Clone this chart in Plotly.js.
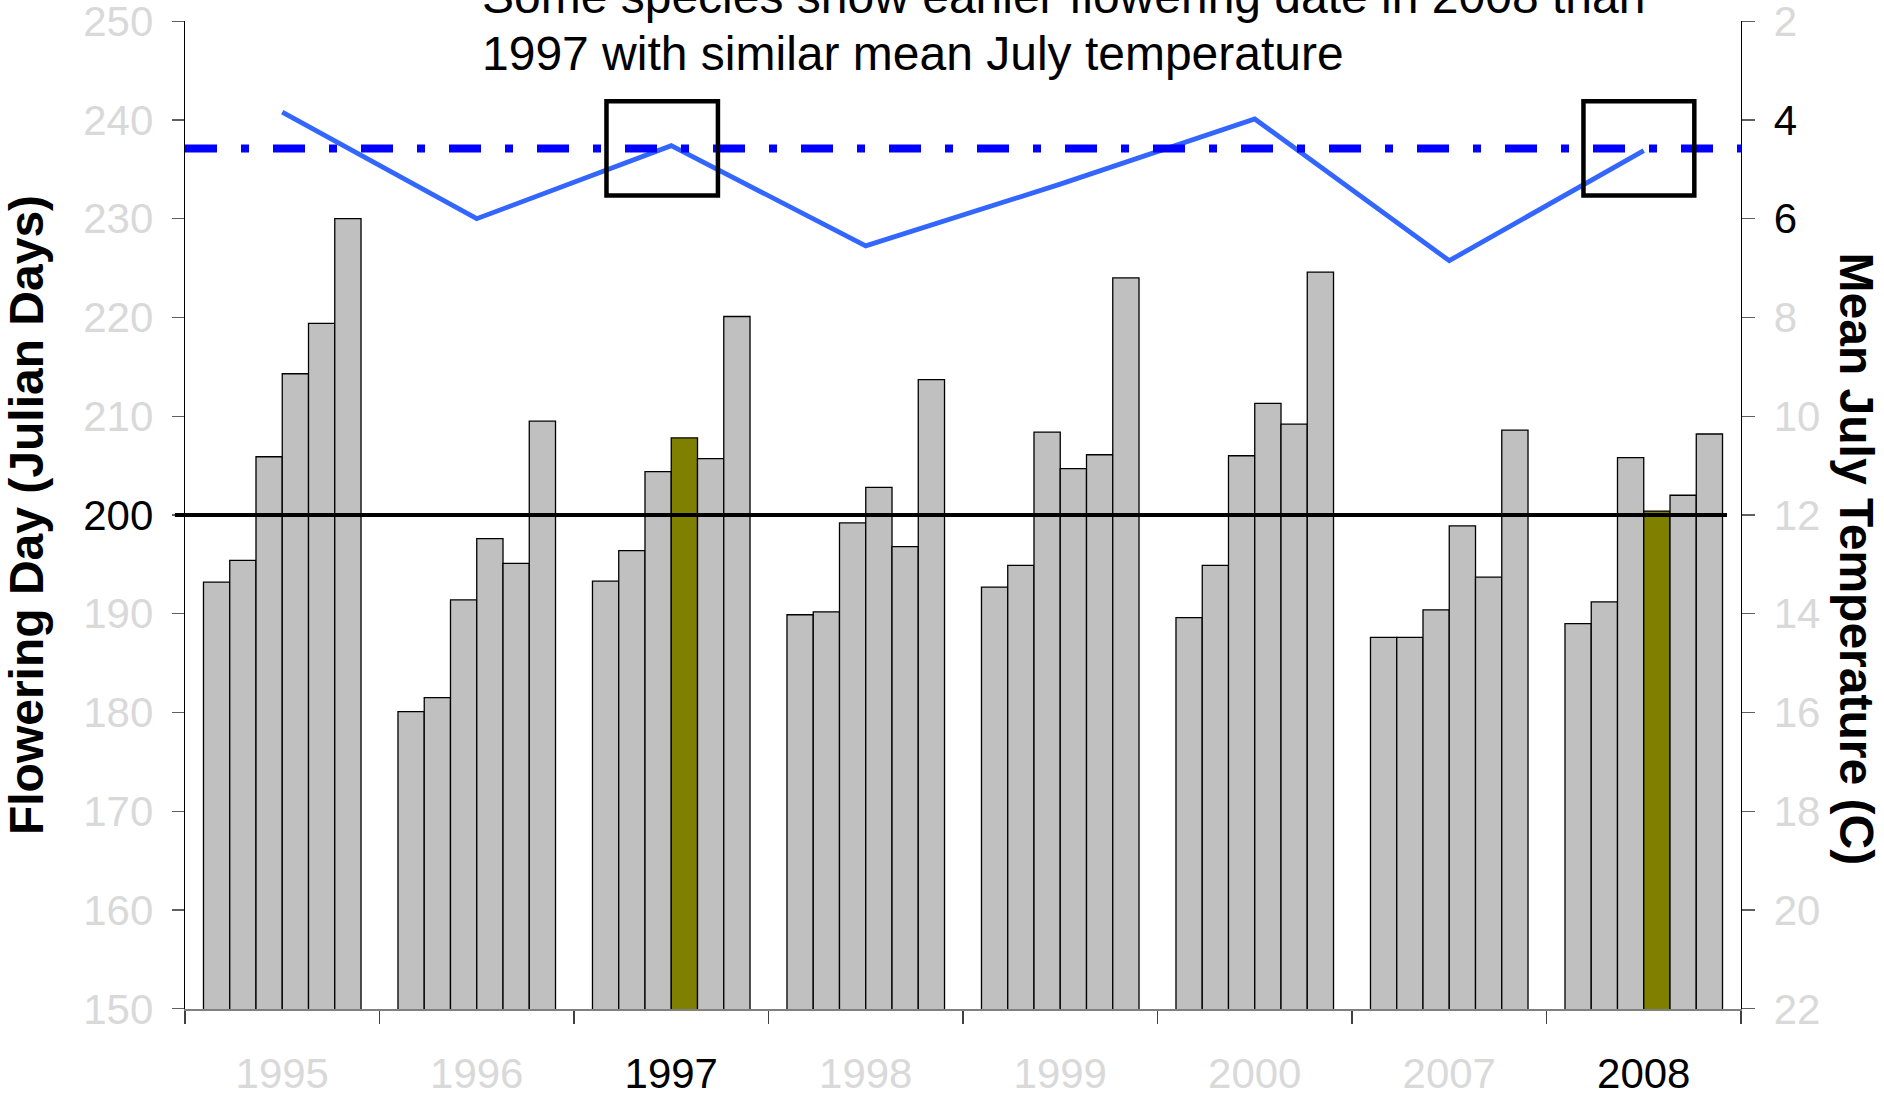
<!DOCTYPE html>
<html>
<head>
<meta charset="utf-8">
<script src="https://cdn.plot.ly/plotly-3.0.1.min.js"></script>
<style>
  html, body { margin: 0; padding: 0; background: #fff; }
  #chart { width: 1884px; height: 1097px; }
</style>
</head>
<body>
<div id="chart"></div>
<script>
// ---------- data ----------
const years = ['1995', '1996', '1997', '1998', '1999', '2000', '2007', '2008'];
const species1 = [193.2, 180.1, 193.3, 189.9, 192.7, 189.6, 187.6, 189.0];
const species2 = [195.4, 181.5, 196.4, 190.2, 194.9, 194.9, 187.6, 191.2];
const species3 = [205.9, 191.4, 204.4, 199.2, 208.4, 206.0, 190.4, 205.8];
const species4 = [214.3, 197.6, 207.8, 202.8, 204.7, 211.3, 198.9, 200.4];
const species5 = [219.4, 195.1, 205.7, 196.8, 206.1, 209.2, 193.7, 202.0];
const species6 = [230.0, 209.5, 220.1, 213.7, 224.0, 224.6, 208.6, 208.2];
const julyTemp = [3.84, 6.0, 4.52, 6.55, 5.3, 3.98, 6.85, 4.62];
const refTemp = 4.58;          // dash-dot reference temperature
const refDay = 200;            // black reference flowering day
const highlightYears = ['1997', '2008'];
const highlightSpecies = 3;    // index of species highlighted
const leftTicks = [150, 160, 170, 180, 190, 200, 210, 220, 230, 240, 250];
const leftBlack = [200];
const rightTicks = [2, 4, 6, 8, 10, 12, 14, 16, 18, 20, 22];
const rightBlack = [4, 6];
const titleLine1 = 'Some species show earlier flowering date in 2008 than';
const titleLine2 = '1997 with similar mean July temperature';

// ---------- styling ----------
const FONT = 'Liberation Sans, Arial, sans-serif';
const GRAY_TXT = 'rgb(217,217,217)';
const BAR_GRAY = '#C0C0C0';
const OLIVE = '#808000';

const allSpecies = [species1, species2, species3, species4, species5, species6];

function colorLabel(v, blackList) {
  const c = blackList.indexOf(v) >= 0 ? '#000000' : GRAY_TXT;
  return '<span style="color:' + c + '">' + v + '</span>';
}

const traces = allSpecies.map((vals, si) => ({
  type: 'bar',
  x: years,
  y: vals,
  name: 'Species ' + (si + 1),
  marker: {
    color: years.map(y => (si === highlightSpecies && highlightYears.indexOf(y) >= 0) ? OLIVE : BAR_GRAY),
    line: { color: '#000000', width: 1.3 }
  },
  hoverinfo: 'x+y'
}));

traces.push({
  type: 'scatter',
  mode: 'lines',
  x: years,
  y: julyTemp,
  yaxis: 'y2',
  name: 'Mean July Temperature',
  line: { color: '#3366FF', width: 4.8 },
  hoverinfo: 'x+y'
});

const shapes = [];
// black reference line at 200
shapes.push({
  type: 'line', xref: 'paper', yref: 'y',
  x0: -0.0065, x1: 0.991, y0: refDay, y1: refDay,
  line: { color: '#000000', width: 4 }, layer: 'above'
});
// dash-dot reference temperature line
shapes.push({
  type: 'line', xref: 'paper', yref: 'y2',
  x0: 0, x1: 1, y0: refTemp, y1: refTemp,
  line: { color: '#0000FF', width: 8, dash: '32px,24px,8px,24px' }, layer: 'above'
});
// boxes around 1997 and 2008 temperature points
highlightYears.forEach((yr, k) => {
  const idx = years.indexOf(yr);
  shapes.push({
    type: 'rect', xref: 'x', yref: 'y2',
    x0: idx - (k === 0 ? 0.333 : 0.31), x1: idx + (k === 0 ? 0.24 : 0.26),
    y0: refTemp - 0.96, y1: refTemp + 0.95,
    line: { color: '#000000', width: 4.5 }, fillcolor: 'rgba(0,0,0,0)', layer: 'above'
  });
});

const annotations = [
  {
    xref: 'paper', yref: 'paper', x: 0.1895, y: 1.025, xanchor: 'left', yanchor: 'middle',
    text: titleLine1, showarrow: false, font: { family: FONT, size: 48, color: '#000' }
  },
  {
    xref: 'paper', yref: 'paper', x: 0.1895, y: 0.967, xanchor: 'left', yanchor: 'middle',
    text: titleLine2, showarrow: false, font: { family: FONT, size: 48, color: '#000' }
  },
  {
    xref: 'paper', yref: 'paper', x: 1.0745, y: 0.455, xanchor: 'center', yanchor: 'middle',
    text: '<b>Mean July Temperature (C)</b>', textangle: 90, showarrow: false,
    font: { family: FONT, size: 48, color: '#000' }
  }
];

const layout = {
  width: 1884, height: 1097,
  margin: { l: 185, r: 143, t: 21, b: 88 },
  paper_bgcolor: '#fff', plot_bgcolor: '#fff',
  font: { family: FONT, size: 42, color: GRAY_TXT },
  showlegend: false,
  barmode: 'group', bargap: 0.19, bargroupgap: 0,
  xaxis: {
    type: 'category',
    tickmode: 'array', tickvals: years, ticktext: years.map(y => colorLabel(y, highlightYears)),
    tickson: 'boundaries', ticks: 'outside', ticklen: 13, tickwidth: 1.3, tickcolor: '#404040',
    showline: true, linecolor: '#808080', linewidth: 1.5,
    showgrid: false, zeroline: false,
    tickfont: { family: FONT, size: 42, color: GRAY_TXT },
    ticklabelstandoff: 27,
    ticklabeloverflow: 'allow',
    fixedrange: true
  },
  yaxis: {
    range: [149.98, 250.02],
    tickmode: 'array', tickvals: leftTicks, ticktext: leftTicks.map(v => colorLabel(v, leftBlack)),
    ticks: 'outside', ticklen: 12, tickwidth: 1.3, tickcolor: '#606060',
    showline: true, linecolor: '#000000', linewidth: 1.3,
    showgrid: false, zeroline: false,
    tickfont: { family: FONT, size: 42, color: GRAY_TXT },
    ticklabelstandoff: 10,
    ticklabeloverflow: 'allow',
    title: { text: '<b>Flowering Day (Julian Days)</b>', font: { family: FONT, size: 48, color: '#000' }, standoff: 34 },
    fixedrange: true
  },
  yaxis2: {
    overlaying: 'y', side: 'right',
    range: [22.004, 1.996],
    tickmode: 'array', tickvals: rightTicks, ticktext: rightTicks.map(v => colorLabel(v, rightBlack)),
    ticks: 'outside', ticklen: 13, tickwidth: 1.3, tickcolor: '#606060',
    showline: true, linecolor: '#000000', linewidth: 1.3,
    showgrid: false, zeroline: false,
    tickfont: { family: FONT, size: 42, color: GRAY_TXT },
    ticklabelstandoff: 10,
    ticklabeloverflow: 'allow',
    fixedrange: true
  },
  shapes: shapes,
  annotations: annotations
};

Plotly.newPlot('chart', traces, layout, { displayModeBar: false, staticPlot: true });
</script>
</body>
</html>
